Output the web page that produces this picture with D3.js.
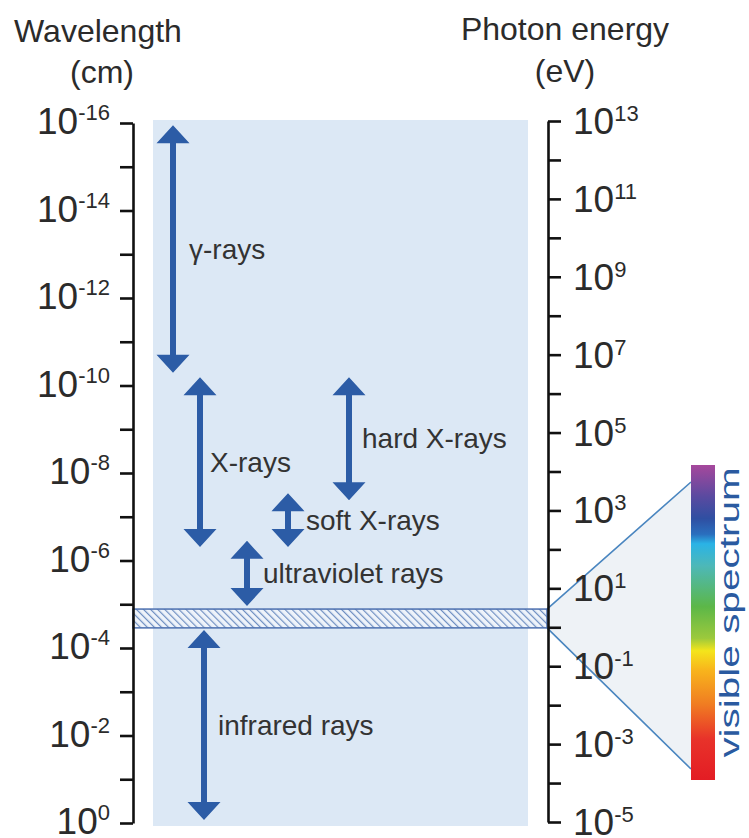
<!DOCTYPE html>
<html>
<head>
<meta charset="utf-8">
<script src="https://cdn.jsdelivr.net/npm/d3@7"></script>
<style>
body { margin: 0; background: #fff; }
text { font-family: "Liberation Sans", Arial, sans-serif; fill: #2b2b2b; }
</style>
</head>
<body>
<script>
var width = 749,
    height = 838;

// axes, as powers of ten
var waveTicks = d3.range(-16, 1);
var waveLabels = [-16, -14, -12, -10, -8, -6, -4, -2, 0];
var energyTicks = d3.range(-5, 14);
var energyLabels = [13, 11, 9, 7, 5, 3, 1, -1, -3, -5];

// ranges, log10(wavelength / cm)
var bandNames = ["\u03b3-rays", "X-rays", "hard X-rays", "soft X-rays", "ultraviolet rays", "infrared rays"];
var bandShort = [-15.95, -10.19, -10.19, -7.54, -6.45, -4.41];
var bandLong = [-10.29, -6.31, -7.38, -6.31, -4.96, -0.07];
var visibleBand = [-4.89, -4.46];

// spectrum colours, top (violet) to bottom (red)
var spectrumColors = ["#a6489c", "#5a4aa0", "#2f4fa2", "#2a6fbe", "#2ab3e6", "#4db8b8", "#5cb748", "#9cc93c", "#f4e51b", "#f8b51c", "#f07c22", "#e8322a", "#e31d24"];
var spectrumStops = [0, 0.1, 0.17, 0.22, 0.25, 0.32, 0.45, 0.55, 0.59, 0.65, 0.76, 0.87, 1];

// layout only
var arrowX = [173, 200, 349, 288, 247, 204];
var labelDx = [16, 10, 13, 18, 16, 14];

var svg = d3.select("body").append("svg")
    .attr("width", width)
    .attr("height", height);

var yWave = d3.scaleLog().domain([1e-16, 1]).range([123, 823]);
var yEnergy = d3.scaleLog().domain([1e13, 1e-5]).range([121, 822]);
var pow = function(e) { return Math.pow(10, e); };

var arrowColor = "#2c5ca6";

var defs = svg.append("defs");
var hatch = defs.append("pattern")
    .attr("id", "hatch")
    .attr("patternUnits", "userSpaceOnUse")
    .attr("width", 5).attr("height", 5)
    .attr("patternTransform", "rotate(-45)");
hatch.append("rect").attr("width", 5).attr("height", 5).attr("fill", "#eef3fa");
hatch.append("line")
    .attr("x1", 0).attr("y1", 0).attr("x2", 0).attr("y2", 5)
    .attr("stroke", "#6f8fc2").attr("stroke-width", 2.4);

var grad = defs.append("linearGradient")
    .attr("id", "spectrum")
    .attr("x1", 0).attr("y1", 0).attr("x2", 0).attr("y2", 1);
grad.selectAll("stop")
    .data(spectrumStops)
  .enter().append("stop")
    .attr("offset", function(d) { return d; })
    .attr("stop-color", function(d, i) { return spectrumColors[i]; });

// light blue panel
svg.append("rect")
    .attr("x", 153).attr("y", 120)
    .attr("width", 375).attr("height", 706)
    .attr("fill", "#dce8f5");

// zoom-out wedge to the visible spectrum
var bandTop = yWave(pow(visibleBand[0])),
    bandBottom = yWave(pow(visibleBand[1]));
var barX = 691, barTop = 465, barH = 315;

svg.append("path")
    .attr("d", "M547," + bandTop + "L" + barX + ",482L" + barX + ",769L547," + bandBottom + "Z")
    .attr("fill", "#eef2f6");
svg.append("path")
    .attr("d", "M547," + bandTop + "L" + barX + ",482M547," + bandBottom + "L" + barX + ",769")
    .attr("fill", "none")
    .attr("stroke", "#4a86c0")
    .attr("stroke-width", 1.6);

svg.append("rect")
    .attr("x", barX).attr("y", barTop)
    .attr("width", 24).attr("height", barH)
    .attr("fill", "url(#spectrum)");

svg.append("text")
    .attr("transform", "translate(739," + (barTop + barH / 2 - 10) + ") rotate(-90) scale(1.5,1)")
    .attr("text-anchor", "middle")
    .attr("font-size", 27)
    .style("fill", "#2a5aa0")
    .text("visible spectrum");

// hatched visible band
svg.append("rect")
    .attr("x", 133).attr("y", bandTop)
    .attr("width", 414).attr("height", bandBottom - bandTop)
    .attr("fill", "url(#hatch)")
    .attr("stroke", "#4d70b0")
    .attr("stroke-width", 1.5);

// arrows
var arrows = svg.selectAll(".arrow")
    .data(bandNames)
  .enter().append("g")
    .attr("class", "arrow");

var headH = 18, headW = 16.5;
arrows.append("line")
    .attr("x1", function(d, i) { return arrowX[i]; })
    .attr("x2", function(d, i) { return arrowX[i]; })
    .attr("y1", function(d, i) { return yWave(pow(bandShort[i])) + headH - 1; })
    .attr("y2", function(d, i) { return yWave(pow(bandLong[i])) - headH + 1; })
    .attr("stroke", arrowColor)
    .attr("stroke-width", 6);

arrows.append("path")
    .attr("fill", arrowColor)
    .attr("d", function(d, i) {
      var x = arrowX[i], t = yWave(pow(bandShort[i])), b = yWave(pow(bandLong[i]));
      return "M" + x + "," + t + "L" + (x + headW) + "," + (t + headH) + "L" + (x - headW) + "," + (t + headH) + "Z" +
             "M" + x + "," + b + "L" + (x + headW) + "," + (b - headH) + "L" + (x - headW) + "," + (b - headH) + "Z";
    });

arrows.append("text")
    .attr("x", function(d, i) { return arrowX[i] + labelDx[i]; })
    .attr("y", function(d, i) { return (yWave(pow(bandShort[i])) + yWave(pow(bandLong[i]))) / 2; })
    .attr("dy", "0.35em")
    .attr("font-size", 28)
    .style("fill", "#333")
    .text(function(d) { return d; });

// axes
var leftAxis = svg.append("g")
    .attr("transform", "translate(133,0)")
    .call(d3.axisLeft(yWave).tickValues(waveTicks.map(pow)).tickSize(13).tickSizeOuter(0).tickFormat(""));
var rightAxis = svg.append("g")
    .attr("transform", "translate(548,0)")
    .call(d3.axisRight(yEnergy).tickValues(energyTicks.map(pow)).tickSize(13).tickSizeOuter(0).tickFormat(""));
svg.selectAll(".domain, .tick line")
    .attr("stroke", "#111")
    .attr("stroke-width", 2.6);

var lt = svg.selectAll(".wlabel")
    .data(waveLabels)
  .enter().append("text")
    .attr("class", "wlabel")
    .attr("x", 110)
    .attr("y", function(d) { return yWave(pow(d)) + 11; })
    .attr("text-anchor", "end")
    .attr("font-size", 37);
lt.append("tspan").text("10");
lt.append("tspan").attr("dy", -14).attr("font-size", 22).text(function(d) { return d; });

var rt = svg.selectAll(".elabel")
    .data(energyLabels)
  .enter().append("text")
    .attr("class", "elabel")
    .attr("x", 573)
    .attr("y", function(d) { return yEnergy(pow(d)) + 13; })
    .attr("font-size", 37);
rt.append("tspan").text("10");
rt.append("tspan").attr("dy", -13).attr("font-size", 22).text(function(d) { return d; });

// axis titles
svg.append("text").attr("x", 98).attr("y", 42).attr("text-anchor", "middle").attr("font-size", 32).text("Wavelength");
svg.append("text").attr("x", 102).attr("y", 83).attr("text-anchor", "middle").attr("font-size", 32).text("(cm)");
svg.append("text").attr("x", 565).attr("y", 40).attr("text-anchor", "middle").attr("font-size", 32).text("Photon energy");
svg.append("text").attr("x", 565).attr("y", 82).attr("text-anchor", "middle").attr("font-size", 32).text("(eV)");
</script>
</body>
</html>
